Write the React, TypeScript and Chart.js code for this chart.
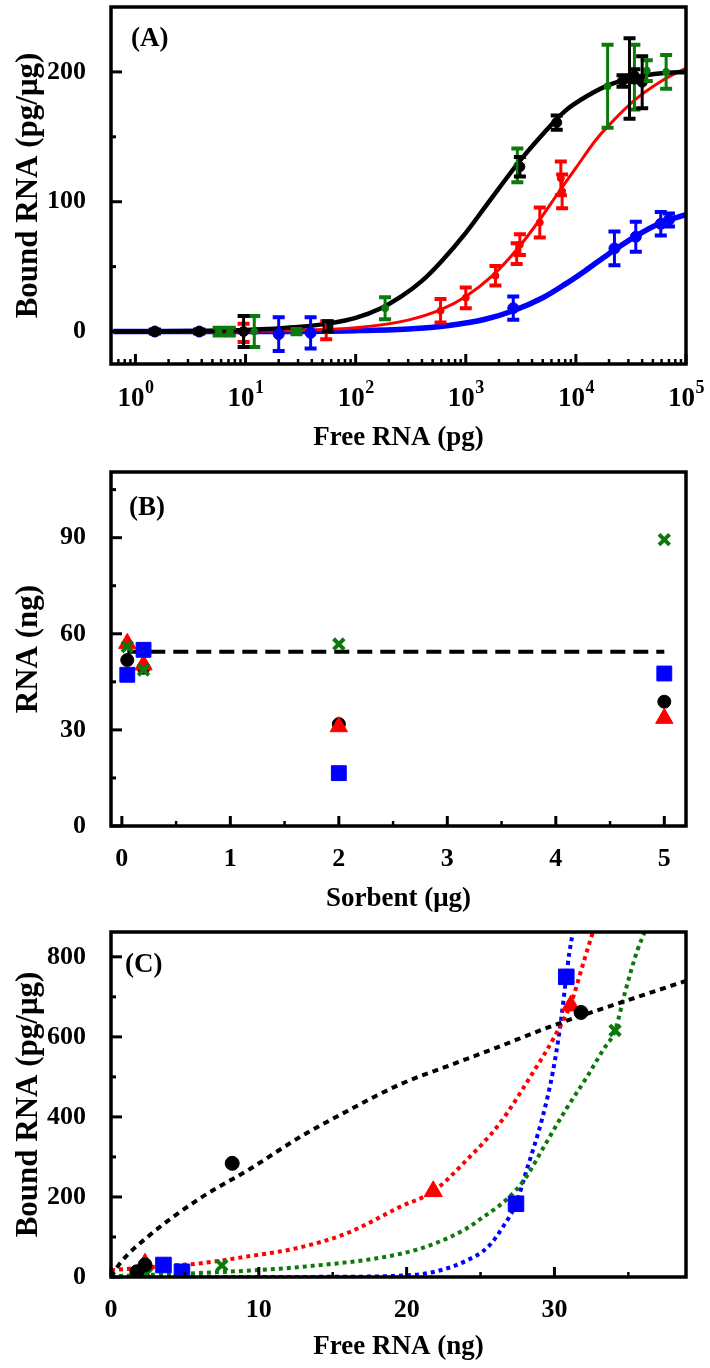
import React, { useEffect, useRef } from 'react';
import { Chart, registerables } from 'chart.js';

Chart.register(...registerables);

const SERIF = '"Liberation Serif", "Times New Roman", Times, serif';
const BLACK = '#000000';
const RED = '#ff0000';
const GREEN = '#0b7a0b';
const BLUE = '#0000ff';

// ---------------- Panel A: Bound RNA vs Free RNA (log x) ----------------
const aBlackX = [1.5, 3.8, 9.6, 56, 3100, 6700, 26500, 30700, 34000, 40000];
const aBlackY = [0, 0, 0, 4, 127, 161, 193, 195, 197, 192];
const aBlackErr = [1.5, 1.5, 12, 4, 7.5, 5.5, 4.5, 31, 5, 20];

const aGreenX = [5.7, 7.2, 12, 29, 185, 2940, 19400, 34000, 44000, 66000];
const aGreenY = [0, 0, 0, 0, 18, 128, 189, 196, 201, 200];
const aGreenErr = [3, 3, 12, 2, 8.5, 13, 32, 25, 8, 13];

const aRedX = [9.6, 54, 590, 1000, 1860, 2900, 3100, 4700, 7300, 7500];
const aRedY = [-1, 1, 16, 26, 43, 60, 67, 84, 118, 108];
const aRedErr = [7, 7, 9, 8, 7.5, 8, 8, 11.5, 13, 13];

const aBlueX = [1.5, 3.8, 20, 39, 2700, 22400, 35000, 59000, 70000];
const aBlueY = [0, 0, -2, -1, 18, 64, 73, 83, 86];
const aBlueErr = [1, 1, 13, 12, 9, 13, 11.5, 9, 5];

const aBlackFitX = [0.63, 3, 10, 30, 60, 100, 170, 260, 400, 600, 1000, 1500, 2200, 3200, 5000, 8000, 13000, 20000, 35000, 60000, 100000];
const aBlackFitY = [0, 0.4, 1.2, 3.5, 6.5, 10.5, 18, 27, 39, 54, 76, 96, 115, 133, 152, 170, 182, 190, 196, 199, 200];

const aRedFitX = [0.63, 10, 100, 300, 600, 1000, 1800, 3000, 4500, 7000, 10000, 15000, 20000, 35000, 60000, 100000];
const aRedFitY = [0, 0.3, 3, 8.8, 17, 27, 44, 64.5, 84, 107.5, 126, 147, 159, 179, 193, 203];

const aBlueFitX = [0.63, 10, 100, 300, 700, 1500, 2700, 5000, 8000, 12000, 20000, 35000, 60000, 100000];
const aBlueFitY = [0, 0.07, 0.7, 2, 4.7, 9.5, 16, 26, 36.5, 46.5, 60, 73.5, 84, 90];

const aXMajor = [1, 10, 100, 1000, 10000, 100000];
const aYMajor = [0, 100, 200];
const aYMinor = [50, 150];

// ---------------- Panel B: RNA vs Sorbent ----------------
const bX = [0.05, 0.2, 2, 5];
const bBlack = [51.8, 49.4, 31.8, 38.8];
const bRed = [57, 50.3, 31, 33.6];
const bGreen = [56, 48.7, 56.8, 89.4];
const bBlue = [47.2, 55, 16.5, 47.6];
const bRefX = [0.05, 5];
const bRefY = [54.4, 54.4];

const bXMajor = [0, 1, 2, 3, 4, 5];
const bXMinor = [0.5, 1.5, 2.5, 3.5, 4.5];
const bYMajor = [0, 30, 60, 90];
const bYMinor = [15, 45, 75, 105];

// ---------------- Panel C: Bound RNA vs Free RNA (linear) ----------------
const cBlackX = [1.75, 2.3, 8.2, 31.8];
const cBlackY = [13, 30, 284, 661];
const cRedX = [2.3, 21.8, 31.1];
const cRedY = [33, 214, 678];
const cBlueX = [3.55, 4.8, 27.4, 30.8];
const cBlueY = [30, 13, 183, 750];
const cGreenX = [2.4, 7.5, 34.1];
const cGreenY = [8, 29, 616];

const cBlackFitX = [0, 0.6, 2.6, 6, 9.4, 12.8, 16, 19.6, 23, 26, 29.9, 32, 35, 38.9];
const cBlackFitY = [0, 34, 104, 196, 270, 350, 415, 482, 530, 572, 628, 655, 692, 740];
const cRedFitX = [0, 3, 6, 9, 12.8, 16, 19.6, 21.8, 24, 26.3, 28.6, 30, 31.1, 32, 32.6];
const cRedFitY = [17, 26, 34, 50, 74, 110, 176, 214, 290, 384, 514, 600, 682, 790, 862];
const cBlueFitX = [0, 10, 15, 20, 22, 24, 25.5, 26.6, 27.4, 28.1, 29.2, 29.9, 30.4, 30.8, 31.0, 31.25];
const cBlueFitY = [0, 0, 0.5, 4, 14, 40, 75, 130, 183, 265, 400, 514, 629, 750, 808, 862];
const cGreenFitX = [0, 6, 12.8, 19.6, 22, 24, 25, 26.8, 28, 29.2, 30.8, 32.2, 33.3, 34.1, 34.8, 35.6, 36.1];
const cGreenFitY = [2, 10, 25, 58, 85, 120, 145, 195, 245, 320, 420, 500, 568, 616, 715, 815, 862];

const cXMajor = [0, 10, 20, 30];
const cXMinor = [5, 15, 25, 35];
const cYMajor = [0, 200, 400, 600, 800];
const cYMinor = [100, 300, 500, 700];

// ---------------- helpers ----------------
const pts = (xs: number[], ys: number[]) => xs.map((x, i) => ({ x, y: ys[i] }));

function logMinorTicks(min: number, max: number): number[] {
  const out: number[] = [];
  for (let k = -1; k <= 5; k++) {
    for (let m = 2; m <= 9; m++) {
      const v = m * Math.pow(10, k);
      if (v >= min && v <= max) out.push(v);
    }
  }
  return out;
}

const tickFont = { family: SERIF, size: 26, weight: 'bold' as const };
const xTitleFont = { family: SERIF, size: 27, weight: 'bold' as const };
const yTitleFont = { family: SERIF, size: 31, weight: 'bold' as const };

type ErrSeries = { color: string; xs: number[]; ys: number[]; es: number[] };
type PanelCfg = {
  id: string;
  label: string;
  labelDx: number;
  labelDy: number;
  xMajor: number[];
  xMinor: number[];
  yMajor: number[];
  yMinor: number[];
  errors?: ErrSeries[];
  powerLabels?: boolean;
};

function panelPlugin(cfg: PanelCfg) {
  return {
    id: cfg.id,
    afterDatasetsDraw(chart: any) {
      if (!cfg.errors) return;
      const ctx = chart.ctx;
      const ca = chart.chartArea;
      const xs = chart.scales.x;
      const ys = chart.scales.y;
      ctx.save();
      ctx.beginPath();
      ctx.rect(ca.left, ca.top, ca.right - ca.left, ca.bottom - ca.top);
      ctx.clip();
      for (const s of cfg.errors) {
        ctx.strokeStyle = s.color;
        ctx.lineCap = 'butt';
        s.xs.forEach((x, i) => {
          const px = xs.getPixelForValue(x);
          const y0 = ys.getPixelForValue(s.ys[i] - s.es[i]);
          const y1 = ys.getPixelForValue(s.ys[i] + s.es[i]);
          ctx.lineWidth = 3;
          ctx.beginPath();
          ctx.moveTo(px, y0);
          ctx.lineTo(px, y1);
          ctx.stroke();
          ctx.lineWidth = 4;
          ctx.beginPath();
          ctx.moveTo(px - 6, y0);
          ctx.lineTo(px + 6, y0);
          ctx.moveTo(px - 6, y1);
          ctx.lineTo(px + 6, y1);
          ctx.stroke();
        });
      }
      ctx.restore();
    },
    afterDraw(chart: any) {
      const ctx = chart.ctx;
      const ca = chart.chartArea;
      const xs = chart.scales.x;
      const ys = chart.scales.y;
      ctx.save();
      ctx.strokeStyle = '#000';
      ctx.lineCap = 'butt';
      const xTick = (v: number, len: number, w: number) => {
        const px = xs.getPixelForValue(v);
        ctx.lineWidth = w;
        ctx.beginPath();
        ctx.moveTo(px, ca.bottom);
        ctx.lineTo(px, ca.bottom - len);
        ctx.stroke();
      };
      const yTick = (v: number, len: number, w: number) => {
        const py = ys.getPixelForValue(v);
        ctx.lineWidth = w;
        ctx.beginPath();
        ctx.moveTo(ca.left, py);
        ctx.lineTo(ca.left + len, py);
        ctx.stroke();
      };
      cfg.xMinor.forEach((v) => xTick(v, 5, 2.5));
      cfg.xMajor.forEach((v) => xTick(v, 10, 3));
      cfg.yMinor.forEach((v) => yTick(v, 5, 3));
      cfg.yMajor.forEach((v) => yTick(v, 11, 3));
      ctx.lineWidth = 3.5;
      ctx.strokeRect(ca.left, ca.top, ca.right - ca.left, ca.bottom - ca.top);
      ctx.fillStyle = '#000';
      ctx.font = `bold 27px ${SERIF}`;
      ctx.textAlign = 'left';
      ctx.textBaseline = 'alphabetic';
      ctx.fillText(cfg.label, ca.left + cfg.labelDx, ca.top + cfg.labelDy);
      if (cfg.powerLabels) {
        cfg.xMajor.forEach((v) => {
          const px = xs.getPixelForValue(v);
          const e = String(Math.round(Math.log10(v)));
          ctx.font = `bold 27px ${SERIF}`;
          const w1 = ctx.measureText('10').width;
          ctx.font = `bold 18px ${SERIF}`;
          const w2 = ctx.measureText(e).width;
          const start = px - (w1 + w2) / 2;
          ctx.font = `bold 27px ${SERIF}`;
          ctx.fillText('10', start, ca.bottom + 42);
          ctx.font = `bold 18px ${SERIF}`;
          ctx.fillText(e, start + w1 + 0.5, ca.bottom + 29);
        });
      }
      ctx.restore();
    },
  };
}

type AxisCfg = {
  xType: 'linear' | 'logarithmic';
  xMin: number;
  xMax: number;
  yMin: number;
  yMax: number;
  xTitle: string;
  yTitle: string;
  padTop: number;
  xAxisH: number;
  xTitlePad: number;
  xMajor: number[];
  yMajor: number[];
  showXLabels: boolean;
};

function makeOptions(o: AxisCfg): any {
  return {
    responsive: false,
    animation: false,
    events: [],
    layout: { padding: { top: o.padTop, right: 24, bottom: 0, left: 0 } },
    plugins: { legend: { display: false }, tooltip: { enabled: false } },
    scales: {
      x: {
        type: o.xType,
        min: o.xMin,
        max: o.xMax,
        grid: { display: false },
        border: { display: false },
        afterBuildTicks: (s: any) => {
          s.ticks = o.xMajor.map((v) => ({ value: v }));
        },
        afterFit: (s: any) => {
          s.height = o.xAxisH;
          s.paddingLeft = 0;
          s.paddingRight = 0;
        },
        ticks: {
          display: o.showXLabels,
          font: tickFont,
          color: '#000',
          padding: 10,
          autoSkip: false,
          maxRotation: 0,
          minRotation: 0,
          callback: (v: any) => String(v),
        },
        title: {
          display: true,
          text: o.xTitle,
          font: xTitleFont,
          color: '#000',
          padding: { top: 0, bottom: o.xTitlePad },
        },
      },
      y: {
        type: 'linear',
        min: o.yMin,
        max: o.yMax,
        grid: { display: false },
        border: { display: false },
        afterBuildTicks: (s: any) => {
          s.ticks = o.yMajor.map((v) => ({ value: v }));
        },
        afterFit: (s: any) => {
          s.width = 111;
          s.paddingTop = 0;
          s.paddingBottom = 0;
        },
        ticks: {
          font: tickFont,
          color: '#000',
          padding: 17,
          autoSkip: false,
          callback: (v: any) => String(v),
        },
        title: {
          display: true,
          text: o.yTitle,
          font: yTitleFont,
          color: '#000',
          padding: { top: 10, bottom: 0 },
        },
      },
    },
  };
}

function markerSet(data: any[], color: string, style: string, radius: number, border = 1) {
  return {
    data,
    showLine: false,
    pointStyle: style,
    pointRadius: radius,
    pointBackgroundColor: color,
    pointBorderColor: color,
    pointBorderWidth: border,
  };
}

function lineSet(data: any[], color: string, width: number, dash?: number[]) {
  return {
    data,
    showLine: true,
    borderColor: color,
    borderWidth: width,
    borderDash: dash || [],
    pointRadius: 0,
    fill: false,
    cubicInterpolationMode: 'monotone',
    borderCapStyle: 'butt',
  };
}

function buildA(): any {
  const xMin = 0.63;
  const xMax = 100000;
  return {
    type: 'scatter',
    data: {
      datasets: [
        markerSet(pts(aBlackX, aBlackY), BLACK, 'circle', 5),
        markerSet(pts(aGreenX, aGreenY), GREEN, 'circle', 3.5),
        markerSet(pts(aRedX, aRedY), RED, 'circle', 3.5),
        markerSet(pts(aBlueX, aBlueY), BLUE, 'circle', 5.5),
        lineSet(pts(aBlackFitX, aBlackFitY), BLACK, 4.5),
        lineSet(pts(aRedFitX, aRedFitY), RED, 3),
        lineSet(pts(aBlueFitX, aBlueFitY), BLUE, 5.5),
      ],
    },
    options: makeOptions({
      xType: 'logarithmic',
      xMin,
      xMax,
      yMin: -25,
      yMax: 250,
      xTitle: 'Free RNA (pg)',
      yTitle: 'Bound RNA (pg/\u03bcg)',
      padTop: 7,
      xAxisH: 96,
      xTitlePad: 6,
      xMajor: aXMajor,
      yMajor: aYMajor,
      showXLabels: false,
    }),
    plugins: [
      panelPlugin({
        id: 'panelA',
        label: '(A)',
        labelDx: 20,
        labelDy: 39,
        xMajor: aXMajor,
        xMinor: logMinorTicks(xMin, xMax),
        yMajor: aYMajor,
        yMinor: aYMinor,
        powerLabels: true,
        errors: [
          { color: BLUE, xs: aBlueX, ys: aBlueY, es: aBlueErr },
          { color: RED, xs: aRedX, ys: aRedY, es: aRedErr },
          { color: GREEN, xs: aGreenX, ys: aGreenY, es: aGreenErr },
          { color: BLACK, xs: aBlackX, ys: aBlackY, es: aBlackErr },
        ],
      }),
    ],
  };
}

function buildB(): any {
  return {
    type: 'scatter',
    data: {
      datasets: [
        markerSet(pts(bX, bBlue), BLUE, 'rect', 10.5),
        markerSet(pts(bX, bGreen), GREEN, 'crossRot', 7.5, 4),
        markerSet(pts(bX, bRed), RED, 'triangle', 10),
        markerSet(pts(bX, bBlack), BLACK, 'circle', 6.5),
        lineSet(pts(bRefX, bRefY), BLACK, 4, [15, 8]),
      ],
    },
    options: makeOptions({
      xType: 'linear',
      xMin: -0.1,
      xMax: 5.2,
      yMin: 0,
      yMax: 110.5,
      xTitle: 'Sorbent (\u03bcg)',
      yTitle: 'RNA (ng)',
      padTop: 12,
      xAxisH: 94,
      xTitlePad: 5,
      xMajor: bXMajor,
      yMajor: bYMajor,
      showXLabels: true,
    }),
    plugins: [
      panelPlugin({
        id: 'panelB',
        label: '(B)',
        labelDx: 18,
        labelDy: 43,
        xMajor: bXMajor,
        xMinor: bXMinor,
        yMajor: bYMajor,
        yMinor: bYMinor,
      }),
    ],
  };
}

function buildC(): any {
  return {
    type: 'scatter',
    data: {
      datasets: [
        markerSet(pts(cBlueX, cBlueY), BLUE, 'rect', 11),
        markerSet(pts(cBlackX, cBlackY), BLACK, 'circle', 7),
        markerSet(pts(cRedX, cRedY), RED, 'triangle', 10.5),
        markerSet(pts(cGreenX, cGreenY), GREEN, 'crossRot', 7.5, 4),
        lineSet(pts(cBlackFitX, cBlackFitY), BLACK, 4, [6, 5]),
        lineSet(pts(cRedFitX, cRedFitY), RED, 4, [4, 4]),
        lineSet(pts(cGreenFitX, cGreenFitY), GREEN, 4, [4, 4]),
        lineSet(pts(cBlueFitX, cBlueFitY), BLUE, 4, [4, 4]),
      ],
    },
    options: makeOptions({
      xType: 'linear',
      xMin: 0,
      xMax: 38.9,
      yMin: 0,
      yMax: 862,
      xTitle: 'Free RNA (ng)',
      yTitle: 'Bound RNA (pg/\u03bcg)',
      padTop: 5,
      xAxisH: 91,
      xTitlePad: 5,
      xMajor: cXMajor,
      yMajor: cYMajor,
      showXLabels: true,
    }),
    plugins: [
      panelPlugin({
        id: 'panelC',
        label: '(C)',
        labelDx: 14,
        labelDy: 40,
        xMajor: cXMajor,
        xMinor: cXMinor,
        yMajor: cYMajor,
        yMinor: cYMinor,
      }),
    ],
  };
}

function Panel({ top, height, build }: { top: number; height: number; build: () => any }) {
  const ref = useRef<HTMLCanvasElement>(null);
  useEffect(() => {
    if (!ref.current) return;
    const chart = new Chart(ref.current, build());
    return () => chart.destroy();
  }, []);
  return (
    <canvas
      ref={ref}
      width={710}
      height={height}
      style={{ position: 'absolute', left: 0, top, width: 710, height, display: 'block' }}
    />
  );
}

export default function App() {
  return (
    <div style={{ position: 'absolute', left: 0, top: 0, width: 710, height: 1368, background: '#fff' }}>
      <Panel top={0} height={460} build={buildA} />
      <Panel top={460} height={460} build={buildB} />
      <Panel top={920} height={448} build={buildC} />
    </div>
  );
}
